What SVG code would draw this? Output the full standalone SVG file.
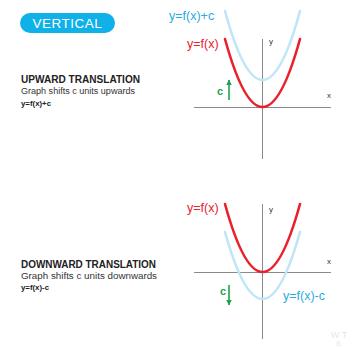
<svg xmlns="http://www.w3.org/2000/svg" width="353" height="347" viewBox="0 0 353 347">
<defs>
<style>
.axis{stroke:#8a8a8a;stroke-width:1;fill:none}
.red{stroke:#e8212b;stroke-width:2.6;fill:none;stroke-linecap:round}
.light{stroke:#bfe6f8;stroke-width:2.6;fill:none;stroke-linecap:round}
.arrow{stroke:#1ea34a;stroke-width:1.6;fill:none}
.lbl{font-family:"Liberation Sans",Arial,sans-serif}
.ax{font-family:"Liberation Sans",Arial,sans-serif;font-size:8px;fill:#333}
.head{font-family:"Liberation Sans",Arial,sans-serif;font-size:10.5px;fill:#222;font-weight:600}
.sub{font-family:"Liberation Sans",Arial,sans-serif;font-size:8.4px;fill:#333}
.eq{font-family:"Liberation Sans",Arial,sans-serif;font-size:7.8px;fill:#222;font-weight:600}
</style>
<marker id="ah" viewBox="0 0 10 10" refX="9" refY="5" markerWidth="3.5" markerHeight="3.5" orient="auto-start-reverse" markerUnits="strokeWidth">
<path d="M0,0 L10,5 L0,10 Z" fill="#1ea34a"/>
</marker>
</defs>
<rect width="353" height="347" fill="#ffffff"/>
<g id="badge">
<rect x="20" y="13" width="95" height="20" rx="10" fill="#10b1e8"/>
<text x="67.5" y="28" text-anchor="middle" class="lbl" font-size="13.5" fill="#ffffff" letter-spacing="0.5">VERTICAL</text>
</g>
<g id="upward-text">
<text x="21" y="83" class="head" textLength="119" lengthAdjust="spacingAndGlyphs">UPWARD TRANSLATION</text>
<text x="21" y="94" class="sub" textLength="114" lengthAdjust="spacingAndGlyphs">Graph shifts c units upwards</text>
<text x="21" y="106" class="eq" textLength="30" lengthAdjust="spacingAndGlyphs">y=f(x)+c</text>
</g>
<g id="downward-text">
<text x="21" y="267.5" class="head" textLength="135" lengthAdjust="spacingAndGlyphs">DOWNWARD TRANSLATION</text>
<text x="21" y="278.5" class="sub" textLength="136" lengthAdjust="spacingAndGlyphs">Graph shifts c units downwards</text>
<text x="21" y="290" class="eq" textLength="28" lengthAdjust="spacingAndGlyphs">y=f(x)-c</text>
</g>
<g id="connectors">
<g id="top-axes">
<line class="axis" x1="194" y1="107.5" x2="331" y2="107.5"/>
<line class="axis" x1="262.5" y1="39" x2="262.5" y2="159"/>
</g>
<g id="bottom-axes">
<line class="axis" x1="194" y1="272.5" x2="331" y2="272.5"/>
<line class="axis" x1="262.5" y1="204" x2="262.5" y2="339"/>
</g>
<line class="arrow" x1="229" y1="100" x2="229" y2="80" marker-end="url(#ah)"/>
<line class="arrow" x1="229" y1="285" x2="229" y2="305" marker-end="url(#ah)"/>
</g>
<g id="top-graph">
<path class="light" d="M225,11 Q262.5,149 300,11"/>
<path class="red" d="M225,39 Q262.5,175 300,39"/>
<text x="269" y="44" class="ax">y</text>
<text x="327" y="98" class="ax">x</text>
<text x="169" y="20" class="lbl" font-size="12.5" fill="#29abe2">y=f(x)+c</text>
<text x="187" y="47.5" class="lbl" font-size="12.5" fill="#e8212b">y=f(x)</text>
<text x="217" y="95" class="lbl" font-size="11" fill="#1ea34a" font-weight="bold">c</text>
</g>
<g id="bottom-graph">
<path class="light" d="M225,232 Q262.5,366 300,232"/>
<path class="red" d="M225,204 Q262.5,340 300,204"/>
<text x="269" y="212" class="ax">y</text>
<text x="327" y="264" class="ax">x</text>
<text x="187" y="212" class="lbl" font-size="12.5" fill="#e8212b">y=f(x)</text>
<text x="283" y="299.5" class="lbl" font-size="12.5" fill="#29abe2">y=f(x)-c</text>
<text x="220" y="295" class="lbl" font-size="11" fill="#1ea34a" font-weight="bold">c</text>
</g>
<g id="watermark">
<text x="331" y="338" class="lbl" font-size="9" fill="#e6e6e6">W T</text>
<text x="336" y="346" class="lbl" font-size="7" fill="#e6e6e6">S</text>
</g>
</svg>
